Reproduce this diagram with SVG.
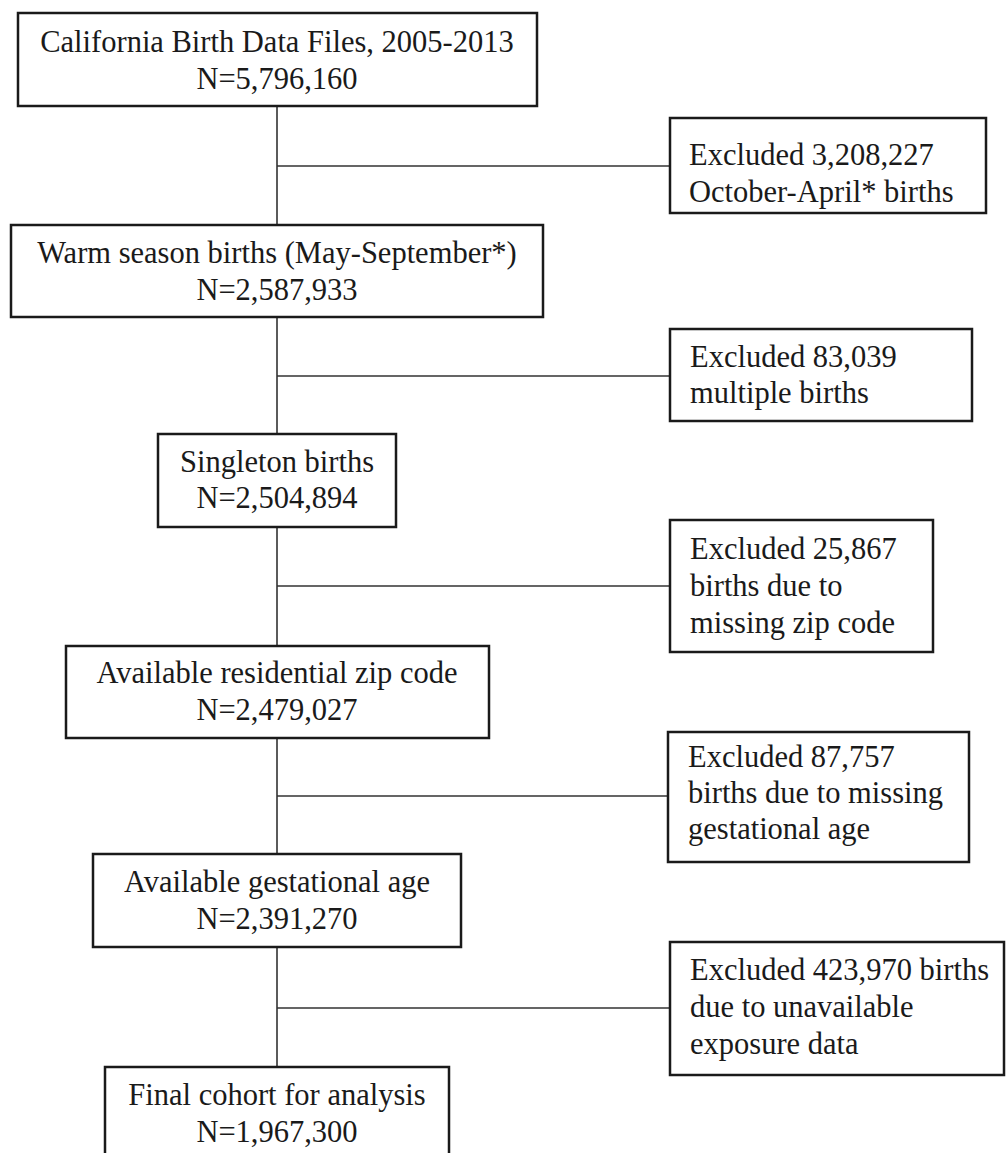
<svg xmlns="http://www.w3.org/2000/svg" width="1008" height="1153" viewBox="0 0 1008 1153">
<style>
.box{fill:#fff;stroke:#1a1a1a;stroke-width:2.5}
.c{fill:none;stroke:#333;stroke-width:1.6}
text{font-family:"Liberation Serif","Times New Roman",serif;font-size:30.5px;fill:#1a1a1a}
.m{text-anchor:middle}
</style>
<rect width="1008" height="1153" fill="#fff"/>
<g id="connectors">
<path class="c" d="M277 106V225M277 166H670"/>
<path class="c" d="M277 317V434M277 376H670"/>
<path class="c" d="M277 527V646M277 586H670"/>
<path class="c" d="M277 738V854M277 796H668"/>
<path class="c" d="M277 947V1067M277 1008H670"/>
</g>
<g id="n1"><rect class="box" x="18" y="13" width="519" height="93"/>
<text class="m" x="277" y="52">California Birth Data Files, 2005-2013</text>
<text class="m" x="277" y="89">N=5,796,160</text></g>
<g id="e1"><rect class="box" x="670" y="118" width="316" height="95"/>
<text x="689" y="165">Excluded 3,208,227</text>
<text x="689" y="202">October-April* births</text></g>
<g id="n2"><rect class="box" x="11" y="225" width="532" height="92"/>
<text class="m" x="277" y="263">Warm season births (May-September*)</text>
<text class="m" x="277" y="300">N=2,587,933</text></g>
<g id="e2"><rect class="box" x="670" y="329" width="302" height="92"/>
<text x="690" y="367">Excluded 83,039</text>
<text x="690" y="403">multiple births</text></g>
<g id="n3"><rect class="box" x="158" y="434" width="238" height="93"/>
<text class="m" x="277" y="472">Singleton births</text>
<text class="m" x="277" y="508">N=2,504,894</text></g>
<g id="e3"><rect class="box" x="670" y="520" width="263" height="132"/>
<text x="690" y="559">Excluded 25,867</text>
<text x="690" y="596">births due to</text>
<text x="690" y="633">missing zip code</text></g>
<g id="n4"><rect class="box" x="66" y="646" width="423" height="92"/>
<text class="m" x="277" y="683">Available residential zip code</text>
<text class="m" x="277" y="720">N=2,479,027</text></g>
<g id="e4"><rect class="box" x="668" y="732" width="301" height="130"/>
<text x="688" y="767">Excluded 87,757</text>
<text x="688" y="803">births due to missing</text>
<text x="688" y="839">gestational age</text></g>
<g id="n5"><rect class="box" x="93" y="854" width="368" height="93"/>
<text class="m" x="277" y="892">Available gestational age</text>
<text class="m" x="277" y="929">N=2,391,270</text></g>
<g id="e5"><rect class="box" x="670" y="942" width="334" height="133"/>
<text x="690" y="980">Excluded 423,970 births</text>
<text x="690" y="1017">due to unavailable</text>
<text x="690" y="1054">exposure data</text></g>
<g id="n6"><rect class="box" x="105" y="1067" width="344" height="93"/>
<text class="m" x="277" y="1105">Final cohort for analysis</text>
<text class="m" x="277" y="1142">N=1,967,300</text></g>
</svg>
